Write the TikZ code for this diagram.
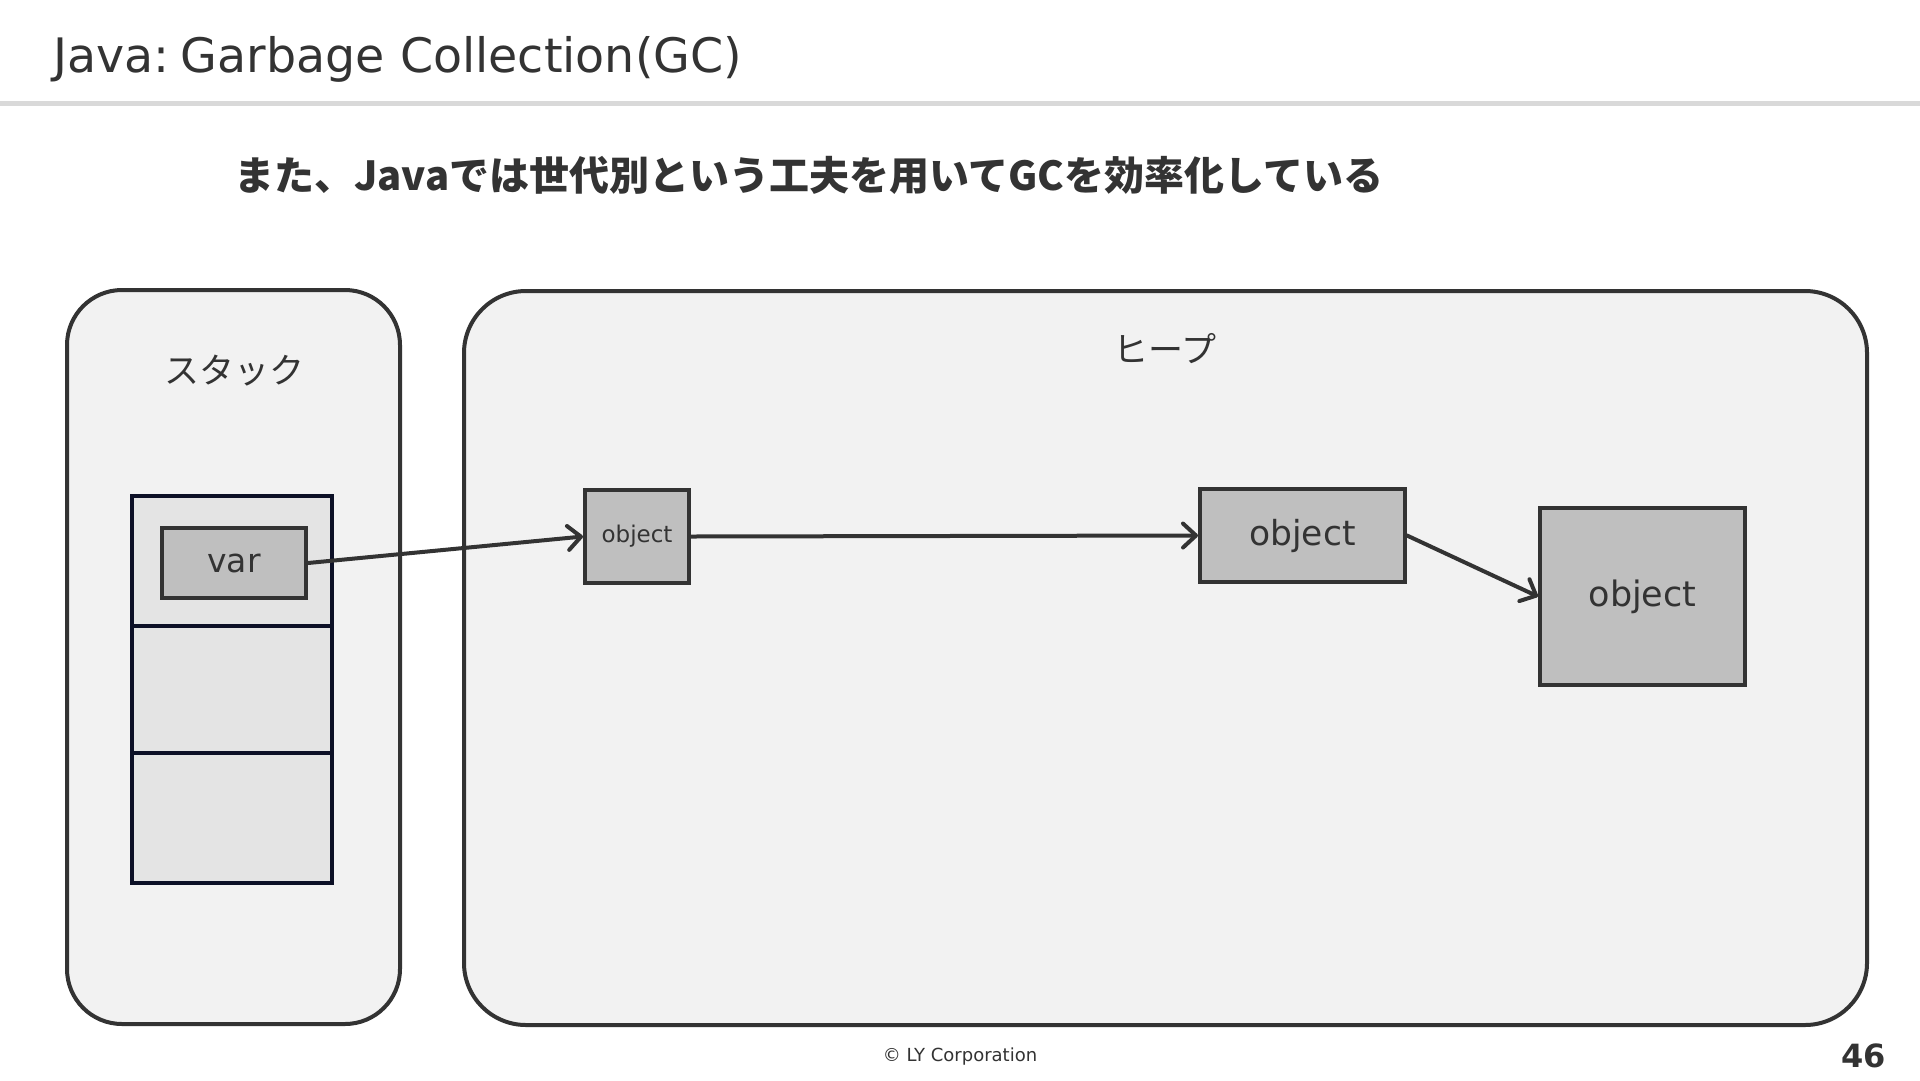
\documentclass[tikz,border=0pt]{standalone}
\usepackage{fontspec}
\setmainfont{DejaVu Sans}
\newfontfamily\jpfont{Noto Sans CJK JP}
\usetikzlibrary{arrows.meta}
\definecolor{ink}{HTML}{333333}
\definecolor{rulegray}{HTML}{D9D9D9}
\definecolor{panelfill}{HTML}{F2F2F2}
\definecolor{cellfill}{HTML}{E4E4E4}
\definecolor{objfill}{HTML}{BFBFBF}
\definecolor{navy}{HTML}{0C1026}
\begin{document}
\begin{tikzpicture}[x=1pt,y=-1pt,
  panel/.style={draw=ink, fill=panelfill, line width=4pt, inner sep=0pt},
  cell/.style={draw=navy, fill=cellfill, line width=3.5pt, inner sep=0pt, minimum width=200pt},
  obj/.style={draw=ink, fill=objfill, line width=4pt, inner sep=0pt, text=ink},
  lbl/.style={inner sep=0pt, text=ink},
  arr/.style={draw=ink, line width=4pt, line cap=round, -{Straight Barb[length=13pt,width=24pt,line cap=round,line join=round]}}
]
\useasboundingbox (0,0) rectangle (1920,1080);
\fill[white] (0,0) rectangle (1920,1080);
\node[lbl, anchor=base west, font=\fontsize{47.5}{56}\selectfont] (title) at (53,72) {Java:\kern-0.08em\ Garbage Collection(GC)};
\fill[rulegray] (0,100.5) rectangle (1920,105.5);
\node[lbl, anchor=base west, font=\jpfont\bfseries\fontsize{40}{48}\selectfont] (sub) at (234,190) {また、Javaでは世代別という工夫を用いてGCを効率化している};

\node[panel, rounded corners=55pt, minimum width=333pt, minimum height=734pt] (stack) at (233.5,657) {};
\node[panel, rounded corners=62pt, minimum width=1403pt, minimum height=734pt] (heap) at (1165.5,658) {};
\node[lbl, anchor=base, font=\jpfont\fontsize{35}{42}\selectfont] (stacklbl) at (234,383) {スタック};
\node[lbl, anchor=base, font=\jpfont\fontsize{35}{42}\selectfont] (heaplbl) at (1165,362) {ヒープ};

\node[cell, minimum height=130pt] (c1) at (232,561) {};
\node[cell, minimum height=127pt] (c2) at (232,689.5) {};
\node[cell, minimum height=130pt] (c3) at (232,818) {};

\node[obj, minimum width=144pt, minimum height=70pt, font=\fontsize{33}{40}\selectfont] (var) at (234,563) {var};
\node[obj, minimum width=104pt, minimum height=93pt, font=\fontsize{23}{28}\selectfont] (o1) at (637,536.5) {object};
\node[obj, minimum width=205pt, minimum height=93pt, font=\fontsize{34.5}{41}\selectfont] (o2) at (1302.5,535.5) {object};
\node[obj, minimum width=205pt, minimum height=177pt, font=\fontsize{35}{42}\selectfont] (o3) at (1642.5,596.5) {object};

\draw[arr] (var.east) -- (o1.west);
\draw[arr] (o1.east) -- (o2.west);
\draw[arr] (o2.east) -- (o3.west);

\node[lbl, font=\fontsize{18}{22}\selectfont] (copy) at (960,1057) {© LY Corporation};
\node[lbl, anchor=east, font=\bfseries\fontsize{32}{38}\selectfont] (page) at (1886,1056) {46};
\end{tikzpicture}
\end{document}
